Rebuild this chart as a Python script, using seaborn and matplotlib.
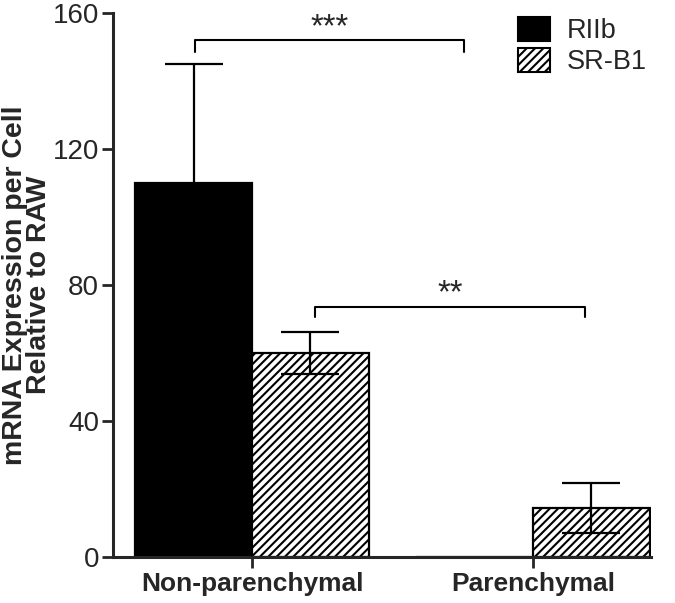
import numpy as np
import pandas as pd
import matplotlib
matplotlib.use("Agg")
import matplotlib.pyplot as plt
from matplotlib.patches import Patch
import seaborn as sns

# values
groups = ["Non-parenchymal", "Parenchymal"]
series = ["RIIb", "SR-B1"]
riib_mean = [110.0, 0.0]
riib_sem = [35.0, 0.0]
srb1_mean = [60.0, 14.5]
srb1_sem = [6.3, 7.4]

# significance brackets: (x_left, x_right, y, leg_drop, label)
brackets = [(-0.203, 0.754, 152.0, 3.6, "***"), (0.224, 1.185, 73.5, 3.0, "**")]

df = pd.DataFrame({
    "group": groups * 2,
    "series": [series[0]] * 2 + [series[1]] * 2,
    "value": riib_mean + srb1_mean,
})
errs = [riib_sem, srb1_sem]

sns.set_style("ticks")
plt.rcParams["font.family"] = ["Liberation Sans", "DejaVu Sans"]
plt.rcParams["hatch.linewidth"] = 1.5
plt.rcParams["hatch.color"] = "black"

fig = plt.figure(figsize=(6.75, 6.03), dpi=100)
ax = fig.add_axes([113 / 675, 46 / 603, 538 / 675, 544 / 603])

sns.barplot(data=df, x="group", y="value", hue="series", order=groups, hue_order=series,
            palette=["black", "white"], width=0.83, errorbar=None, legend=False,
            edgecolor="black", linewidth=1.6, saturation=1, ax=ax)

bar_groups = list(ax.containers)
for i, cont in enumerate(bar_groups):
    xs = [b.get_x() + b.get_width() / 2 for b in cont]
    if i == 1:
        for b in cont:
            b.set_hatch("////")
    mean = riib_mean if i == 0 else srb1_mean
    keep = [j for j in range(len(xs)) if mean[j] > 0]
    ax.errorbar([xs[j] for j in keep], [mean[j] for j in keep], yerr=[errs[i][j] for j in keep],
                fmt="none", ecolor="black", elinewidth=1.6, capsize=21, capthick=1.6, zorder=5)

for x0, x1, y, drop, lab in brackets:
    ax.plot([x0, x0, x1, x1], [y - drop, y, y, y - drop], color="black", lw=1.5, clip_on=False)
    ax.text((x0 + x1) / 2, y + 1.3, lab, ha="center", va="baseline", fontsize=23.5)

ax.set_ylim(0, 160)
ax.set_xlim(-0.495, 1.42)
ax.set_yticks([0, 40, 80, 120, 160])
ax.set_xlabel("")
ax.set_ylabel("mRNA Expression per Cell\nRelative to RAW", fontsize=20.5, fontweight="bold",
              linespacing=0.92)
ax.yaxis.set_label_coords(-0.113, 0.5)
ax.tick_params(axis="y", labelsize=20, width=2, length=8, pad=2)
ax.tick_params(axis="x", labelsize=19, width=2, length=8, pad=3)
for lab in ax.get_xticklabels():
    lab.set_fontweight("bold")
sns.despine(ax=ax)
for s in ["left", "bottom"]:
    ax.spines[s].set_linewidth(2.2)

handles = [Patch(facecolor="black", edgecolor="black", linewidth=1.5),
           Patch(facecolor="white", edgecolor="black", hatch="////", linewidth=1.5)]
ax.legend(handles, series, loc="upper left", bbox_to_anchor=(0.717, 1.027), frameon=False,
          fontsize=19.5, handlelength=1.2, handleheight=0.95, handletextpad=0.6,
          labelspacing=0.15, borderpad=0.2)

fig.savefig("out.png", dpi=100)
